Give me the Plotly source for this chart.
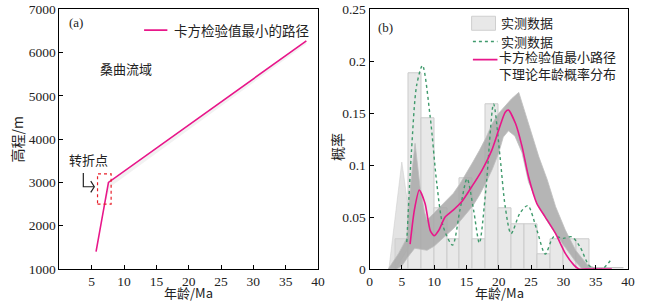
import plotly.graph_objects as go

# ---------------- Panel (a) data ----------------
path_age = [5.67, 7.59, 38.2]          # Ma
path_elev = [1400, 3000, 6270]         # m
shadow_age = [5.67, 7.59, 38.2, 38.2, 7.9, 6.8]
shadow_elev = [1400, 3000, 6270, 6200, 2900, 2400]
box_age = [5.9, 8.0]
box_elev = [2500, 3200]

# ---------------- Panel (b) data ----------------
bin_centers = [5, 7, 9, 11, 13, 15, 17, 19, 21, 23, 25, 27, 29, 31, 33]
bin_heights = [0.029, 0.188, 0.145, 0.058, 0.029, 0.087, 0.029, 0.159,
               0.058, 0.043, 0.043, 0.014, 0.029, 0.029, 0.029]

kde_x = [5.77, 6.5, 7.3, 8.2, 9.4, 10.4, 11.4, 12.85, 14.0, 15.1, 16.1, 17.0,
         18.0, 19.2, 20.2, 21.0, 21.9, 23.3, 24.5, 25.9, 27.2, 28.5, 30.0,
         31.3, 32.6, 33.9, 34.8, 36.0, 37.5]
kde_y = [0.026, 0.114, 0.177, 0.196, 0.146, 0.083, 0.041, 0.023, 0.057, 0.087,
         0.057, 0.025, 0.076, 0.159, 0.108, 0.060, 0.034, 0.054, 0.061, 0.0375,
         0.0144, 0.031, 0.0295, 0.031, 0.021, 0.004, 0.0, 0.0, 0.010]

best_x = [6.28, 6.95, 7.7, 8.6, 9.4, 10.0, 10.7, 11.7, 13.0, 14.3, 15.8, 17.4,
          18.9, 20.0, 21.0, 21.5, 22.6, 23.6, 24.6, 25.9, 27.2, 28.8, 30.3,
          31.6, 32.4, 34.0, 37.5]
best_y = [0.024, 0.057, 0.076, 0.063, 0.037, 0.032, 0.037, 0.050, 0.057, 0.065,
          0.079, 0.095, 0.114, 0.134, 0.151, 0.153, 0.140, 0.118, 0.089, 0.063,
          0.050, 0.034, 0.015, 0.004, 0.0, 0.0, 0.0]

env_top_x = [2.9, 4.5, 5.8, 6.0, 6.5, 7.05, 7.8, 8.5, 8.9, 10, 11, 12, 13, 14,
             15, 16, 17, 18, 19, 20, 21, 22, 23.1, 24.6, 26.2, 27.5, 28.8,
             30.3, 31.9, 33.7, 35.3]
env_top_y = [0.0, 0.015, 0.03, 0.057, 0.089, 0.121, 0.08, 0.055, 0.047, 0.054,
             0.060, 0.066, 0.073, 0.082, 0.092, 0.103, 0.114, 0.126, 0.140,
             0.150, 0.157, 0.164, 0.170, 0.140, 0.108, 0.086, 0.060, 0.0375,
             0.018, 0.004, 0.0]
env_bot_x = [32.9, 31.9, 29.8, 27.7, 26.2, 24.6, 23.6, 22.5, 21.5, 20.7, 20,
             19, 18, 17, 16, 15, 14, 13, 12, 11, 10, 8.9, 7, 6, 5, 4.2]
env_bot_y = [0.0, 0.007, 0.025, 0.044, 0.060, 0.084, 0.112, 0.128, 0.133,
             0.127, 0.112, 0.096, 0.083, 0.071, 0.061, 0.053, 0.046, 0.039,
             0.033, 0.027, 0.022, 0.018, 0.02, 0.012, 0.003, 0.0]
fan_x = [3.0, 4.8, 5.0, 5.3, 6.3, 7.0, 5.8, 4.0]
fan_y = [0.0, 0.09, 0.103, 0.09, 0.045, 0.035, 0.018, 0.0]
tail_x = [33.5, 39.3]
tail_y = [0.0012, 0.0012]

PINK = "#e8178a"
GREEN = "#3f9a6c"
NUMF = "Liberation Serif, Noto Sans CJK SC, serif"
CJKF = "Noto Sans CJK SC, Liberation Serif, sans-serif"

fig = go.Figure()

# ---- panel (a)
fig.add_trace(go.Scatter(x=shadow_age, y=shadow_elev, fill="toself", mode="none",
                         fillcolor="rgba(0,0,0,0.05)", xaxis="x", yaxis="y",
                         hoverinfo="skip", showlegend=False))
fig.add_trace(go.Scatter(x=path_age, y=path_elev, mode="lines",
                         line=dict(color=PINK, width=1.6), xaxis="x", yaxis="y",
                         showlegend=False))

# ---- panel (b)
fig.add_trace(go.Bar(x=bin_centers, y=bin_heights, width=2,
                     marker=dict(color="#e8e8e8", line=dict(color="#cbcbcb", width=1)),
                     xaxis="x2", yaxis="y2", showlegend=False))
fig.add_trace(go.Scatter(x=fan_x, y=fan_y, fill="toself", mode="lines",
                         line=dict(color="rgba(200,200,200,0.8)", width=0.6),
                         fillcolor="rgba(208,208,208,0.6)", xaxis="x2", yaxis="y2",
                         hoverinfo="skip", showlegend=False))
fig.add_trace(go.Scatter(x=env_top_x + env_bot_x, y=env_top_y + env_bot_y,
                         fill="toself", mode="lines",
                         line=dict(color="rgba(190,190,190,1)", width=0.8),
                         fillcolor="rgba(168,168,168,0.85)", xaxis="x2", yaxis="y2",
                         hoverinfo="skip", showlegend=False))
fig.add_trace(go.Scatter(x=tail_x, y=tail_y, mode="lines",
                         line=dict(color="#b0b0b0", width=1), xaxis="x2", yaxis="y2",
                         showlegend=False))
fig.add_trace(go.Scatter(x=kde_x, y=kde_y, mode="lines",
                         line=dict(color=GREEN, width=1.4, dash="dot", shape="spline",
                                   smoothing=0.8),
                         xaxis="x2", yaxis="y2", showlegend=False))
fig.add_trace(go.Scatter(x=best_x, y=best_y, mode="lines",
                         line=dict(color=PINK, width=1.6, shape="spline", smoothing=0.6),
                         xaxis="x2", yaxis="y2", showlegend=False))

W, H = 645, 302
ax_common = dict(showline=True, linecolor="black", linewidth=1, mirror=True,
                 ticks="inside", ticklen=4, tickcolor="black", showgrid=False,
                 zeroline=False, tickfont=dict(family=NUMF, size=13.5, color="#222"),
                 automargin=False)

fig.update_layout(
    width=W, height=H, margin=dict(l=0, r=0, t=0, b=0),
    paper_bgcolor="white", plot_bgcolor="white", showlegend=False, bargap=0,
    xaxis=dict(domain=[59.4 / W, 318 / W], range=[0, 40],
               tickvals=[5, 10, 15, 20, 25, 30, 35, 40], anchor="y", **ax_common),
    yaxis=dict(domain=[1 - 269 / H, 1 - 9.3 / H], range=[1000, 7000],
               tickvals=[1000, 2000, 3000, 4000, 5000, 6000, 7000], anchor="x",
               **ax_common),
    xaxis2=dict(domain=[369.5 / W, 628 / W], range=[0, 40],
                tickvals=[0, 5, 10, 15, 20, 25, 30, 35, 40], anchor="y2", **ax_common),
    yaxis2=dict(domain=[1 - 269 / H, 1 - 9.3 / H], range=[0, 0.25],
                tickvals=[0, 0.05, 0.1, 0.15, 0.2, 0.25],
                ticktext=["0", "0.05", "0.1", "0.15", "0.2", "0.25"], anchor="x2",
                **ax_common),
)

shapes = []
# dashed red box (turning point)
shapes.append(dict(type="rect", xref="x", yref="y", x0=box_age[0], x1=box_age[1],
                   y0=box_elev[0], y1=box_elev[1],
                   line=dict(color="#e8202a", width=1.2, dash="dot")))
# bent arrow
shapes.append(dict(type="path", xref="x", yref="y",
                   path="M 3.7 3220 L 3.7 2900 L 5.36 2900",
                   line=dict(color="#222", width=1.2)))
shapes.append(dict(type="path", xref="x", yref="y",
                   path="M 4.85 3030 L 5.4 2900 L 4.85 2770",
                   line=dict(color="#222", width=1.2)))
# legend (a)
shapes.append(dict(type="line", xref="x", yref="y", x0=13.1, x1=16.7, y0=6520, y1=6520,
                   line=dict(color=PINK, width=1.6)))
# legend (b)
shapes.append(dict(type="rect", xref="x2", yref="y2", x0=15.8, x1=19.5, y0=0.2298,
                   y1=0.2433, fillcolor="#e8e8e8", line=dict(color="#cfcfcf", width=1)))
shapes.append(dict(type="line", xref="x2", yref="y2", x0=16.0, x1=19.8, y0=0.219,
                   y1=0.219, line=dict(color=GREEN, width=1.4, dash="dot")))
shapes.append(dict(type="line", xref="x2", yref="y2", x0=16.0, x1=19.8, y0=0.2016,
                   y1=0.2016, line=dict(color=PINK, width=1.6)))
fig.update_layout(shapes=shapes)

def txt(x, y, s, xref, yref, size=13, xanchor="center", font=CJKF, angle=0,
        yanchor="middle"):
    return dict(x=x, y=y, xref=xref, yref=yref, text=s, showarrow=False,
                xanchor=xanchor, yanchor=yanchor, textangle=angle, align="left",
                font=dict(family=font, size=size, color="#222"))

ann = [
    txt(2.5, 6700, "(a)", "x", "y", size=13, font=NUMF),
    txt(10.3, 5640, "桑曲流域", "x", "y", size=13),
    txt(4.45, 3520, "转折点", "x", "y", size=13),
    txt(17.4, 6520, "卡方检验值最小的路径", "x", "y", size=13.5, xanchor="left"),
    txt(2.4, 0.2325, "(b)", "x2", "y2", size=13, font=NUMF),
    txt(20.0, 0.2375, "实测数据", "x2", "y2", size=13, xanchor="left"),
    txt(20.0, 0.219, "实测数据", "x2", "y2", size=13, xanchor="left"),
    txt(19.75, 0.1965, "卡方检验值最小路径<br>下理论年龄概率分布", "x2", "y2",
        size=13, xanchor="left"),
    txt(16.5 / W, 1 - 140 / H, "高程/m", "paper", "paper", size=14, angle=-90),
    txt(337 / W, 1 - 147 / H, "概率", "paper", "paper", size=14, angle=-90),
    txt(188.5 / W, 1 - 292.5 / H, "年龄/Ma", "paper", "paper", size=13),
    txt(499 / W, 1 - 292.5 / H, "年龄/Ma", "paper", "paper", size=13),
]
fig.update_layout(annotations=ann)

fig.write_html("out.html", config={"displayModeBar": False},
               post_script="document.body.style.margin='0';document.body.style.overflow='hidden';")
